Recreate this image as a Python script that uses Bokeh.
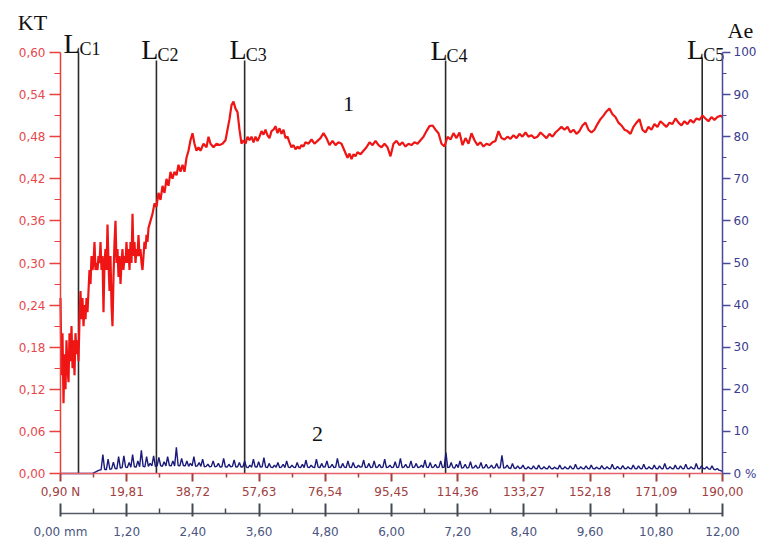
from bokeh.plotting import figure
from bokeh.models import LinearAxis, Range1d, FixedTicker
from bokeh.core.properties import value
from bokeh.embed import file_html
from bokeh.resources import INLINE

# ---------------- data ----------------
red_force = [
    0.90, 1.19, 1.47, 1.76, 2.04, 2.33, 2.61, 2.90, 3.19, 3.47,
    3.76, 4.04, 4.33, 4.61, 4.90, 5.18, 5.47, 5.76, 6.04, 6.33,
    6.61, 6.90, 7.18, 7.47, 7.76, 8.04, 8.33, 8.61, 8.90, 9.18,
    9.47, 9.76, 10.04, 10.33, 10.61, 10.90, 11.18, 11.47, 11.75, 12.04,
    12.33, 12.61, 12.90, 13.18, 13.47, 13.75, 14.04, 14.33, 14.61, 14.90,
    15.18, 15.47, 15.75, 16.04, 16.33, 16.61, 16.90, 17.18, 17.47, 17.75,
    18.04, 18.32, 18.61, 18.89, 19.18, 19.47, 19.75, 20.04, 20.32, 20.61,
    20.90, 21.18, 21.47, 21.75, 22.04, 22.32, 22.61, 22.89, 23.18, 23.47,
    23.75, 24.04, 24.32, 24.61, 24.89, 25.18, 25.47, 25.75, 26.04, 26.61,
    27.18, 27.75, 28.32, 28.89, 29.47, 30.04, 30.61, 31.18, 31.75, 32.32,
    32.89, 33.46, 34.04, 34.61, 35.18, 35.75, 36.32, 36.89, 37.46, 38.03,
    38.61, 39.18, 39.75, 40.32, 40.89, 41.75, 42.60, 43.18, 43.75, 44.60,
    45.46, 46.32, 47.17, 48.03, 48.60, 49.17, 49.75, 50.32, 50.89, 51.46,
    52.03, 52.60, 53.17, 53.75, 54.32, 54.89, 55.46, 56.03, 56.60, 57.17,
    57.74, 58.32, 58.89, 59.46, 60.03, 60.60, 61.17, 61.74, 62.31, 62.89,
    63.46, 64.03, 64.60, 65.17, 65.74, 66.31, 66.88, 67.46, 68.03, 68.60,
    69.17, 69.74, 70.31, 70.88, 71.74, 72.60, 73.45, 74.31, 75.17, 76.02,
    76.88, 77.74, 78.60, 79.45, 80.31, 81.17, 82.03, 82.88, 83.46, 84.03,
    84.60, 85.17, 85.74, 86.60, 87.45, 88.31, 89.17, 90.03, 90.88, 91.74,
    92.60, 93.45, 94.31, 95.16, 96.02, 96.88, 97.74, 98.59, 99.45, 100.31,
    101.16, 102.02, 102.88, 103.73, 104.59, 105.45, 106.30, 107.16, 108.02, 108.88,
    109.73, 110.59, 111.45, 112.30, 113.16, 114.02, 114.87, 115.73, 116.59, 117.44,
    118.30, 119.16, 120.01, 120.87, 121.73, 122.58, 123.44, 124.30, 125.15, 126.01,
    126.87, 127.72, 128.58, 129.44, 130.29, 131.15, 132.01, 132.86, 133.72, 134.58,
    135.43, 136.29, 137.15, 138.01, 138.86, 139.72, 140.58, 141.43, 142.29, 143.15,
    144.00, 144.86, 145.72, 146.57, 147.43, 148.29, 149.14, 150.00, 150.86, 151.71,
    152.57, 153.43, 154.28, 155.14, 156.00, 156.85, 157.71, 158.57, 159.42, 160.28,
    161.14, 161.99, 162.85, 163.71, 164.56, 165.42, 166.28, 167.13, 167.99, 168.85,
    169.71, 170.56, 171.42, 172.28, 173.13, 173.99, 174.85, 175.70, 176.56, 177.42,
    178.27, 179.13, 179.99, 180.84, 181.70, 182.56, 183.41, 184.27, 185.13, 185.98,
    186.84, 187.70, 188.55, 189.41, 190.00,
]
red_kt = [
    0.25, 0.14, 0.20, 0.10, 0.17, 0.12, 0.19, 0.15, 0.13, 0.20,
    0.16, 0.21, 0.15, 0.19, 0.14, 0.20, 0.17, 0.19, 0.16, 0.22,
    0.26, 0.22, 0.25, 0.21, 0.24, 0.22, 0.25, 0.23, 0.26, 0.29,
    0.27, 0.31, 0.29, 0.30, 0.33, 0.29, 0.30, 0.29, 0.31, 0.30,
    0.33, 0.29, 0.31, 0.23, 0.30, 0.32, 0.29, 0.355, 0.30, 0.26,
    0.31, 0.24, 0.21, 0.28, 0.33, 0.36, 0.30, 0.32, 0.28, 0.31,
    0.27, 0.30, 0.32, 0.29, 0.31, 0.30, 0.33, 0.30, 0.32, 0.29,
    0.33, 0.30, 0.37, 0.31, 0.33, 0.30, 0.32, 0.31, 0.34, 0.31,
    0.32, 0.30, 0.29, 0.31, 0.33, 0.32, 0.34, 0.33, 0.35, 0.36,
    0.37, 0.385, 0.38, 0.40, 0.39, 0.41, 0.40, 0.42, 0.41, 0.43,
    0.42, 0.43, 0.425, 0.44, 0.43, 0.44, 0.43, 0.45, 0.46, 0.475,
    0.485, 0.47, 0.46, 0.465, 0.46, 0.47, 0.465, 0.48, 0.47, 0.465,
    0.47, 0.468, 0.47, 0.475, 0.49, 0.505, 0.525, 0.53, 0.52, 0.515,
    0.49, 0.47, 0.475, 0.47, 0.48, 0.475, 0.48, 0.472, 0.48, 0.474,
    0.48, 0.488, 0.483, 0.49, 0.482, 0.478, 0.488, 0.49, 0.495, 0.485,
    0.492, 0.484, 0.49, 0.478, 0.48, 0.472, 0.465, 0.468, 0.462, 0.466,
    0.463, 0.468, 0.466, 0.472, 0.47, 0.476, 0.47, 0.474, 0.478, 0.485,
    0.478, 0.468, 0.474, 0.468, 0.472, 0.47, 0.46, 0.45, 0.456, 0.448,
    0.455, 0.452, 0.458, 0.455, 0.46, 0.465, 0.472, 0.468, 0.474, 0.468,
    0.465, 0.47, 0.465, 0.452, 0.47, 0.474, 0.468, 0.472, 0.466, 0.47,
    0.468, 0.472, 0.47, 0.475, 0.48, 0.488, 0.495, 0.496, 0.49, 0.485,
    0.47, 0.466, 0.48, 0.476, 0.485, 0.478, 0.486, 0.468, 0.478, 0.47,
    0.485, 0.475, 0.468, 0.472, 0.466, 0.47, 0.468, 0.472, 0.474, 0.488,
    0.478, 0.476, 0.48, 0.477, 0.482, 0.478, 0.484, 0.48, 0.486, 0.48,
    0.482, 0.478, 0.48, 0.486, 0.482, 0.478, 0.484, 0.48, 0.486, 0.49,
    0.494, 0.49, 0.494, 0.486, 0.49, 0.484, 0.488, 0.496, 0.50, 0.49,
    0.486, 0.49, 0.498, 0.505, 0.51, 0.516, 0.52, 0.512, 0.508, 0.50,
    0.496, 0.49, 0.488, 0.484, 0.494, 0.50, 0.505, 0.49, 0.486, 0.494,
    0.49, 0.498, 0.494, 0.502, 0.498, 0.494, 0.50, 0.498, 0.506, 0.50,
    0.496, 0.502, 0.498, 0.504, 0.50, 0.506, 0.504, 0.51, 0.506, 0.502,
    0.508, 0.504, 0.508, 0.51, 0.508,
]

# acoustic emission Ae (%), sampled every 0.5 N from 1.0 N to 190.0 N
blue_ae = [
    0.0, 0.0, 0.0, 0.0, 0.0, 0.0, 0.0, 0.0, 0.0, 0.0,
    0.0, 0.0, 0.0, 0.0, 0.0, 0.0, 0.0, 0.0, 0.0,
    0.2, 0.4, 0.6, 0.8, 0.9, 4.5, 1.0, 0.9, 3.4, 1.0,
    1.1, 2.7, 1.2, 1.1, 4.0, 1.3, 1.4, 4.2, 1.5, 1.4,
    2.6, 1.5, 4.5, 1.6, 1.5, 3.0, 1.6, 5.5, 1.7, 1.6,
    4.0, 1.7, 2.4, 1.8, 4.2, 1.7, 1.8, 3.8, 1.9, 1.7,
    2.8, 1.8, 4.0, 1.9, 1.8, 3.0, 1.8, 6.2, 1.9, 1.8,
    3.6, 1.9, 1.8, 3.0, 1.7, 2.4, 1.8, 4.0, 1.7, 1.8,
    2.6, 1.7, 3.4, 1.6, 1.7, 2.2, 1.6, 1.7, 3.0, 1.6,
    1.7, 2.4, 1.5, 1.6, 3.6, 1.6, 1.5, 2.2, 1.6, 1.7,
    3.2, 1.5, 1.6, 2.6, 1.5, 1.6, 3.0, 1.5, 1.4, 2.0,
    1.5, 3.4, 1.6, 1.5, 2.8, 1.5, 1.6, 3.8, 1.5, 1.4,
    2.4, 1.5, 1.4, 2.0, 1.5, 2.6, 1.4, 1.5, 2.2, 1.4,
    3.0, 1.5, 1.4, 2.0, 1.5, 1.4, 2.6, 1.5, 1.4, 2.2,
    1.4, 3.2, 1.5, 1.4, 2.0, 1.5, 1.4, 3.4, 1.5, 1.4,
    2.4, 1.5, 1.6, 3.0, 1.4, 1.5, 2.2, 1.4, 1.5, 3.6,
    1.5, 1.4, 2.4, 1.5, 1.4, 3.0, 1.5, 1.4, 2.6, 1.5,
    1.4, 2.0, 1.5, 1.6, 3.2, 1.4, 1.5, 2.4, 1.4, 1.5,
    3.0, 1.4, 1.5, 2.2, 1.4, 1.5, 3.4, 1.4, 1.5, 2.0,
    1.4, 1.5, 2.8, 1.4, 1.5, 3.6, 1.4, 1.5, 2.2, 1.4,
    1.5, 3.0, 1.4, 1.5, 2.4, 1.4, 1.5, 2.0, 1.4, 3.2,
    1.5, 1.4, 2.6, 1.4, 1.5, 2.2, 1.4, 1.5, 3.0, 1.4,
    1.5, 5.0, 1.4, 1.5, 2.6, 1.4, 1.3, 2.2, 1.4, 3.0,
    1.3, 1.4, 2.2, 1.3, 1.4, 2.8, 1.3, 1.4, 2.0, 1.3,
    1.4, 2.6, 1.3, 1.4, 2.2, 1.3, 1.4, 2.0, 1.3, 1.4,
    2.4, 1.3, 1.4, 4.3, 1.3, 1.4, 2.0, 1.3, 1.2, 2.4,
    1.3, 1.2, 1.8, 1.2, 1.3, 2.0, 1.2, 1.1, 1.6, 1.2,
    1.1, 1.8, 1.2, 1.1, 2.0, 1.2, 1.1, 1.6, 1.2, 1.1,
    1.8, 1.2, 1.1, 1.5, 1.2, 1.1, 2.0, 1.2, 1.1, 1.6,
    1.2, 1.1, 1.8, 1.2, 1.1, 2.2, 1.2, 1.1, 1.6, 1.2,
    1.1, 1.8, 1.2, 1.1, 2.0, 1.2, 1.1, 1.5, 1.2, 1.1,
    1.9, 1.2, 1.1, 1.6, 1.2, 1.1, 2.2, 1.2, 1.1, 1.7,
    1.2, 1.1, 1.9, 1.2, 1.1, 1.6, 1.2, 1.1, 2.0, 1.2,
    1.1, 1.8, 1.2, 1.1, 2.2, 1.2, 1.1, 1.6, 1.2, 1.1,
    2.0, 1.2, 1.1, 1.8, 1.2, 1.1, 2.4, 1.2, 1.1, 1.6,
    1.2, 1.1, 2.0, 1.2, 1.1, 1.8, 1.2, 1.1, 2.2, 1.2,
    1.1, 1.6, 1.2, 1.1, 2.4, 1.2, 1.1, 1.8, 1.2, 1.1,
    1.6, 1.1, 1.0, 1.8, 1.0, 0.9, 1.2, 0.8, 0.7, 0.5,
]
blue_force = [1.0 + 0.5 * i for i in range(len(blue_ae))]

lc_force = [6.04, 28.3, 53.5, 110.9, 184.2]
lc_sub = ["C1", "C2", "C3", "C4", "C5"]

kt_ticks = [0.0, 0.06, 0.12, 0.18, 0.24, 0.30, 0.36, 0.42, 0.48, 0.54, 0.60]
kt_labels = ["0,00", "0,06", "0,12", "0,18", "0,24", "0,30", "0,36", "0,42", "0,48", "0,54", "0,60"]
ae_ticks = [0, 10, 20, 30, 40, 50, 60, 70, 80, 90, 100]
ae_labels = ["0 %", "10", "20", "30", "40", "50", "60", "70", "80", "90", "100"]
force_ticks = [0.90, 19.81, 38.72, 57.63, 76.54, 95.45, 114.36, 133.27, 152.18, 171.09, 190.00]
force_labels = ["0,90 N", "19,81", "38,72", "57,63", "76,54", "95,45", "114,36", "133,27", "152,18", "171,09", "190,00"]
mm_ticks = [0.0, 1.2, 2.4, 3.6, 4.8, 6.0, 7.2, 8.4, 9.6, 10.8, 12.0]
mm_labels = ["0,00 mm", "1,20", "2,40", "3,60", "4,80", "6,00", "7,20", "8,40", "9,60", "10,80", "12,00"]

# ---------------- layout / style ----------------
W, H = 758, 545
# the frame fills the whole canvas; axes are pinned inside it
X_RANGE = (-16.239, 200.283)      # force, N
Y_RANGE = (-0.10261, 0.67411)     # KT
AE_RANGE = (-17.10, 112.35)       # Ae, %
MM_RANGE = (-1.0876, 12.6526)     # distance, mm
MM_AXIS_AT = -0.057               # KT level of the mm axis line

lc_top = [0.600, 0.5886, 0.5886, 0.5886, 0.5930]
l_base = [0.6128, 0.6043, 0.6043, 0.6029, 0.6043]
sub_base = [0.6057, 0.5971, 0.5971, 0.5957, 0.5971]

SANS = "DejaVu Sans"
SERIF = "Liberation Serif"
TICK_FS = "12px"


def mids(t):
    return [(a + b) / 2 for a, b in zip(t[:-1], t[1:])]


p = figure(width=W, height=H, output_backend="svg", toolbar_location=None,
           x_range=Range1d(*X_RANGE), y_range=Range1d(*Y_RANGE),
           min_border=0, min_border_left=0, min_border_right=0,
           min_border_top=0, min_border_bottom=0)
p.outline_line_color = None
p.xgrid.visible = False
p.ygrid.visible = False
p.background_fill_color = "white"
p.border_fill_color = "white"
p.extra_y_ranges = {"ae": Range1d(*AE_RANGE)}
p.extra_x_ranges = {"mm": Range1d(*MM_RANGE)}

# left axis (KT)
ya = p.yaxis[0]
ya.fixed_location = force_ticks[0]
ya.bounds = (0, 0.6)
ya.ticker = FixedTicker(ticks=kt_ticks, minor_ticks=mids(kt_ticks))
ya.major_label_overrides = dict(zip(kt_ticks, kt_labels))
ya.axis_line_color = "#e8403c"
ya.axis_line_width = 1.5
ya.major_tick_line_color = "#e8403c"
ya.minor_tick_line_color = "#e8403c"
ya.major_tick_out = 11
ya.major_tick_in = 0
ya.minor_tick_out = 6
ya.minor_tick_in = 0
ya.major_tick_line_width = 1.5
ya.major_label_standoff = 4
ya.major_label_text_color = "#e8474c"
ya.major_label_text_font = SANS
ya.major_label_text_font_size = TICK_FS

# right axis (Ae)
yr = LinearAxis(y_range_name="ae", fixed_location=force_ticks[-1])
yr.bounds = (0, 100)
yr.ticker = FixedTicker(ticks=ae_ticks, minor_ticks=mids(ae_ticks))
yr.major_label_overrides = dict(zip(ae_ticks, ae_labels))
yr.axis_line_color = "#4a4a9c"
yr.axis_line_width = 1.5
yr.major_tick_line_color = "#4a4a9c"
yr.minor_tick_line_color = "#4a4a9c"
yr.major_tick_out = 8
yr.major_tick_in = 0
yr.minor_tick_out = 4
yr.minor_tick_in = 0
yr.major_tick_line_width = 1.5
yr.major_label_standoff = 3
yr.major_label_text_color = "#3b3b8f"
yr.major_label_text_font = SANS
yr.major_label_text_font_size = TICK_FS
p.add_layout(yr, "right")

# bottom axis (force, N)
xa = p.xaxis[0]
xa.fixed_location = 0.0
xa.bounds = (force_ticks[0], force_ticks[-1])
xa.ticker = FixedTicker(ticks=force_ticks, minor_ticks=mids(force_ticks))
xa.major_label_overrides = dict(zip(force_ticks, force_labels))
xa.axis_line_color = "#e8606a"
xa.axis_line_width = 1.5
xa.major_tick_line_color = "#a0403f"
xa.minor_tick_line_color = "#a0403f"
xa.major_tick_line_width = 2
xa.minor_tick_line_width = 1.5
xa.major_tick_out = 8
xa.major_tick_in = 0
xa.minor_tick_out = 4
xa.minor_tick_in = 0
xa.major_label_standoff = 3
xa.major_label_text_color = "#a0403f"
xa.major_label_text_font = SANS
xa.major_label_text_font_size = TICK_FS

# second bottom axis (mm)
xm = LinearAxis(x_range_name="mm", fixed_location=MM_AXIS_AT)
xm.bounds = (mm_ticks[0], mm_ticks[-1])
xm.ticker = FixedTicker(ticks=mm_ticks, minor_ticks=mids(mm_ticks))
xm.major_label_overrides = dict(zip(mm_ticks, mm_labels))
xm.axis_line_color = "#555a66"
xm.axis_line_width = 1.5
xm.major_tick_line_color = "#444a55"
xm.minor_tick_line_color = "#444a55"
xm.major_tick_line_width = 2
xm.minor_tick_line_width = 1.5
xm.major_tick_out = 3
xm.major_tick_in = 10
xm.minor_tick_out = 0
xm.minor_tick_in = 5
xm.major_label_standoff = 9
xm.major_label_text_color = "#4a5580"
xm.major_label_text_font = SANS
xm.major_label_text_font_size = TICK_FS
p.add_layout(xm, "below")

# vertical L_C lines
p.segment(x0=lc_force, y0=[0] * len(lc_force), x1=lc_force, y1=lc_top,
          line_color="#2a2a2a", line_width=1.6)

# data curves
p.line(blue_force, blue_ae, y_range_name="ae", line_color="#1a1a7a", line_width=1.4)
p.line(red_force, red_kt, line_color="#f01515", line_width=2.2)

# L_C labels
p.text(x=lc_force, y=l_base, text=["L"] * len(lc_force), text_align="right",
       text_baseline="alphabetic", x_offset=2, text_font=value(SERIF),
       text_font_size="28px", text_color="#111111")
p.text(x=lc_force, y=sub_base, text=lc_sub, text_align="left",
       text_baseline="alphabetic", x_offset=1, text_font=value(SERIF),
       text_font_size="18px", text_color="#111111")

# curve numbers
p.text(x=[83.2], y=[0.527], text=["1"], text_align="center", text_baseline="middle",
       text_font=value(SERIF), text_font_size="22px", text_color="#111111")
p.text(x=[74.3], y=[0.057], text=["2"], text_align="center", text_baseline="middle",
       text_font=value(SERIF), text_font_size="22px", text_color="#111111")

# axis titles
p.text(x=[-7.10], y=[0.6428], text=["KT"], text_align="center", text_baseline="middle",
       text_font=value(SERIF), text_font_size="22px", text_color="#111111")
p.text(x=[195.1], y=[0.6314], text=["Ae"], text_align="center", text_baseline="middle",
       text_font=value(SERIF), text_font_size="22px", text_color="#111111")

open("out.html", "w").write(file_html(p, INLINE))
